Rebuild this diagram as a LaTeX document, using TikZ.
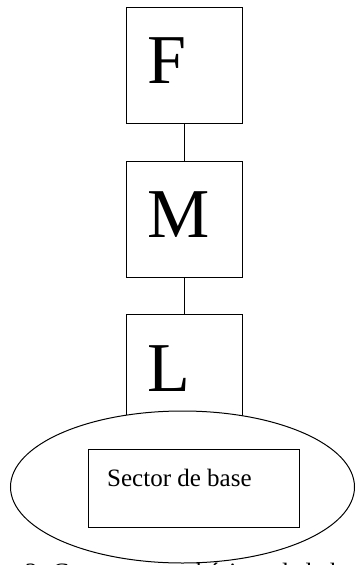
\documentclass[tikz,border=0pt]{standalone}
\usepackage{fontspec}
\setmainfont{Liberation Serif}
\usetikzlibrary{shapes.geometric}
\begin{document}
\begin{tikzpicture}[x=1pt,y=-1pt,
  box/.style={draw,line width=1pt,minimum width=116pt,minimum height=116pt,inner sep=0pt,fill=white},
  letter/.style={inner sep=0pt,font=\fontsize{70}{70}\selectfont},
  link/.style={line width=1pt},
  oval/.style={draw,ellipse,line width=1pt,fill=white,minimum width=344pt,minimum height=152pt,inner sep=0pt},
  sector/.style={draw,line width=1pt,minimum width=211pt,minimum height=78pt,inner sep=0pt,fill=white},
  small/.style={inner sep=0pt,font=\fontsize{25}{25}\selectfont}]
\useasboundingbox (0,0) rectangle (357,565);
\clip (0,0) rectangle (357,565);
% caption, mostly cut off by the page edge as in the reference
\node[small,anchor=base west] (cap) at (25,580.5) {2. Componentes básicos de la hacienda};
\node[box] (F) at (184,65) {};
\node[box] (M) at (184,219.5) {};
\node[box] (L) at (184,372) {};
\node[letter,anchor=base west] (tF) at (147,83) {F};
\node[letter,anchor=base west] (tM) at (147,237) {M};
\node[letter,anchor=base west] (tL) at (147,391) {L};
\draw[link] (F.south) -- (M.north);
\draw[link] (M.south) -- (L.north);
\node[oval] (E) at (182.5,487) {};
\node[sector] (S) at (193.5,488) {};
\node[small,anchor=base west] (tS) at (107,486) {Sector de base};
\end{tikzpicture}
\end{document}
